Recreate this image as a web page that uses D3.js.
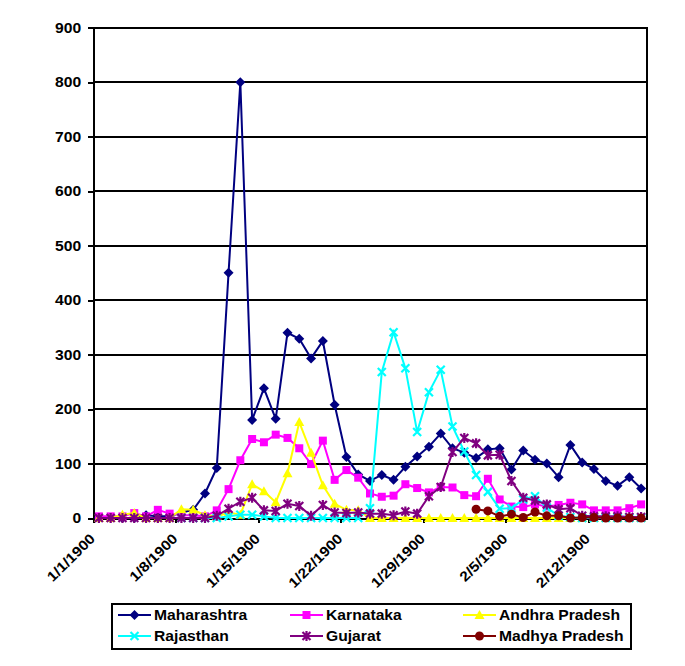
<!DOCTYPE html>
<html>
<head>
<meta charset="utf-8">
<script src="https://cdn.jsdelivr.net/npm/d3@7"></script>
<style>
  body { margin: 0; background: #fff; }
  text { font-family: "Liberation Sans", Arial, sans-serif; font-weight: bold; font-size: 14px; }
</style>
</head>
<body>
<svg id="chart" width="685" height="666"></svg>
<script>
// one value per day, 1/1/1900 .. 2/16/1900
const maharashtra = [0,0,0,0,5,3,3,10,15,45,92,450,800,180,238,182,340,329,293,325,208,112,80,68,79,70,94,113,131,155,128,120,110,126,128,89,124,107,100,75,134,102,90,68,59,75,54];
const karnataka = [3,3,3,9,3,15,8,5,5,3,14,53,106,145,139,153,147,128,99,142,70,88,74,45,39,41,62,55,47,57,56,42,40,72,34,21,20,25,21,24,28,25,14,14,14,18,25];
const andhra = [0,0,6,9,0,0,0,16,15,5,3,10,6,62,49,29,82,176,120,60,26,15,14,0,0,0,0,0,0,0,0,0,0,0,0,0,0,0,0,0,0,0,0,0,0,0,0];
const rajasthan = [null,null,null,null,null,null,null,0,0,0,0,3,6,6,3,0,0,0,0,0,0,0,0,18,268,341,275,158,231,272,168,122,79,48,17,18,34,40,19,4,2,0,0,0,0,0,0];
const gujarat = [0,0,0,0,0,0,0,0,0,0,4,17,30,37,14,13,26,22,4,24,10,9,10,8,8,5,12,8,40,57,121,147,137,115,116,68,37,32,25,16,18,4,3,3,3,2,2];
const madhya = [null,null,null,null,null,null,null,null,null,null,null,null,null,null,null,null,null,null,null,null,null,null,null,null,null,null,null,null,null,null,null,null,16,13,3,7,1,11,4,4,0,1,1,0,0,0,0];

const seriesNames = ["Maharashtra", "Karnataka", "Andhra Pradesh", "Rajasthan", "Gujarat", "Madhya Pradesh"];
const seriesValues = [maharashtra, karnataka, andhra, rajasthan, gujarat, madhya];
const seriesColors = ["#000080", "#ff00ff", "#ffff00", "#00ffff", "#800080", "#800000"];
const seriesMarkers = ["diamond", "square", "triangle", "cross", "star", "circle"];
const yTicks = [0,100,200,300,400,500,600,700,800,900];

const plotLeft = 93, plotRight = 647, plotTop = 27.7, plotBottom = 518;
const stretch = 1.12; // the original text is a bit wide

const svg = d3.select('#chart');
const startDay = new Date(1900, 0, 1);
const dayCount = maharashtra.length;

const x = d3.scaleLinear().domain([0, dayCount]).range([plotLeft, plotRight]);
const y = d3.scaleLinear().domain([0, 900]).range([plotBottom, plotTop]);

function dateLabel(i) {
    const d = d3.timeDay.offset(startDay, i);
    return (d.getMonth() + 1) + '/' + d.getDate() + '/' + d.getFullYear();
}

// gridlines
svg.append('g')
    .selectAll('line')
    .data(yTicks.slice(1))
    .join('line')
    .attr('x1', plotLeft).attr('x2', plotRight)
    .attr('y1', d => Math.round(y(d))).attr('y2', d => Math.round(y(d)))
    .attr('stroke', '#000').attr('stroke-width', 2)
    .attr('shape-rendering', 'crispEdges');

// right border of plot area
svg.append('line')
    .attr('x1', plotRight).attr('x2', plotRight)
    .attr('y1', Math.round(y(900)) - 1).attr('y2', plotBottom)
    .attr('stroke', '#000').attr('stroke-width', 2)
    .attr('shape-rendering', 'crispEdges');

// y axis
const yAxis = svg.append('g')
    .attr('transform', 'translate(' + plotLeft + ',0)')
    .call(d3.axisLeft(y).tickValues(yTicks).tickSize(5).tickSizeOuter(0));
yAxis.select('.domain').attr('stroke-width', 2).attr('shape-rendering', 'crispEdges');
yAxis.selectAll('.tick line').attr('stroke-width', 2).attr('shape-rendering', 'crispEdges');
yAxis.selectAll('.tick text')
    .attr('x', -10.5)
    .attr('transform', 'scale(' + stretch + ',1)')
    .attr('fill', '#000')
    .style('font-size', '14px');

// x axis, a tick every week
const weekTicks = d3.range(0, dayCount, 7);
const xAxis = svg.append('g')
    .attr('transform', 'translate(0,' + plotBottom + ')')
    .call(d3.axisBottom(x).tickValues(weekTicks).tickSize(5).tickSizeOuter(0).tickFormat(dateLabel));
xAxis.select('.domain').attr('stroke-width', 2).attr('shape-rendering', 'crispEdges');
xAxis.selectAll('.tick line').attr('stroke-width', 2).attr('shape-rendering', 'crispEdges');
xAxis.selectAll('.tick text')
    .attr('x', 0).attr('y', 0).attr('dy', '0.35em')
    .attr('text-anchor', 'end')
    .attr('transform', 'translate(-1,18) rotate(-45) scale(' + stretch + ',1)')
    .attr('fill', '#000')
    .style('font-size', '14px');

// marker shapes
function markerPath(kind) {
    switch (kind) {
        case 'diamond': return 'M0,-5L5,0L0,5L-5,0Z';
        case 'square': return 'M-4,-4H4V4H-4Z';
        case 'triangle': return 'M0,-5L5,4H-5Z';
        case 'cross': return 'M-4,-4L4,4M-4,4L4,-4';
        case 'star': return 'M-4,-4L4,4M-4,4L4,-4M0,-5V5';
        default: return null;
    }
}

function drawMarker(g, kind, color) {
    if (kind === 'circle') {
        g.append('circle').attr('r', 4.5).attr('fill', color);
    } else if (kind === 'cross' || kind === 'star') {
        g.append('path').attr('d', markerPath(kind))
            .attr('fill', 'none').attr('stroke', color).attr('stroke-width', 2.2);
    } else {
        g.append('path').attr('d', markerPath(kind)).attr('fill', color);
    }
}

const line = d3.line()
    .defined(d => d != null)
    .x((d, i) => x(i + 0.5))
    .y(d => y(d));

seriesValues.forEach(function (values, s) {
    const g = svg.append('g');
    g.append('path')
        .attr('d', line(values))
        .attr('fill', 'none')
        .attr('stroke', seriesColors[s])
        .attr('stroke-width', 2);

    values.forEach(function (v, i) {
        if (v == null) return;
        const m = g.append('g').attr('transform', 'translate(' + x(i + 0.5) + ',' + y(v) + ')');
        drawMarker(m, seriesMarkers[s], seriesColors[s]);
    });
});

// legend
const legend = svg.append('g');
legend.append('rect')
    .attr('x', 112).attr('y', 604)
    .attr('width', 519).attr('height', 45)
    .attr('fill', '#fff').attr('stroke', '#000').attr('stroke-width', 2)
    .attr('shape-rendering', 'crispEdges');

const colX = [118, 290, 463];
const rowY = [615, 636];
seriesNames.forEach(function (name, s) {
    const cx = colX[s % 3];
    const cy = rowY[Math.floor(s / 3)];
    legend.append('line')
        .attr('x1', cx).attr('x2', cx + 33)
        .attr('y1', cy).attr('y2', cy)
        .attr('stroke', seriesColors[s]).attr('stroke-width', 2);
    const m = legend.append('g').attr('transform', 'translate(' + (cx + 16.5) + ',' + cy + ')');
    drawMarker(m, seriesMarkers[s], seriesColors[s]);
    legend.append('text')
        .attr('transform', 'translate(' + (cx + 36) + ',' + (cy + 5) + ') scale(' + stretch + ',1)')
        .text(name);
});
</script>
</body>
</html>
